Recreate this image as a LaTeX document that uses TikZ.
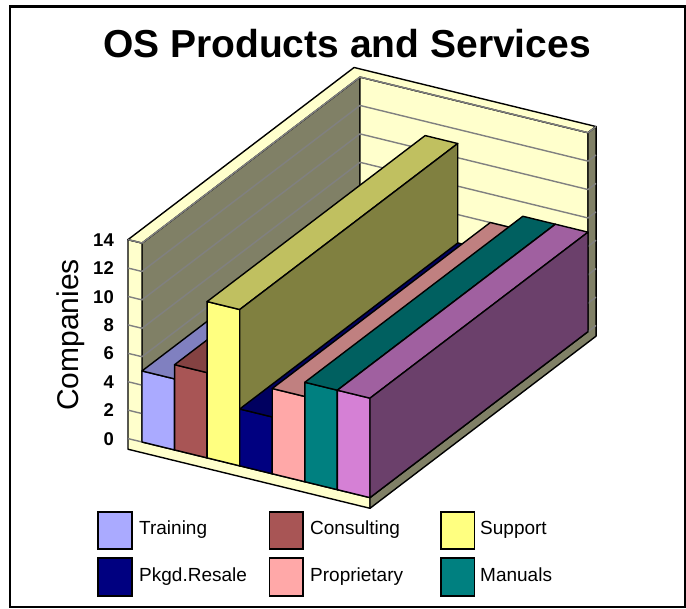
\documentclass[tikz,border=0pt]{standalone}
\usepackage{fontspec}
\setmainfont{Liberation Sans}
\definecolor{wallY}{HTML}{FFFFCC}
\definecolor{wallD}{HTML}{808066}
\definecolor{gridG}{HTML}{808080}
\definecolor{trF}{HTML}{AAAAFF}\definecolor{trT}{HTML}{8080C0}\definecolor{trS}{HTML}{555580}
\definecolor{coF}{HTML}{A85555}\definecolor{coT}{HTML}{844242}\definecolor{coS}{HTML}{542A2A}
\definecolor{suF}{HTML}{FFFF80}\definecolor{suT}{HTML}{C0C060}\definecolor{suS}{HTML}{808040}
\definecolor{pkF}{HTML}{000080}\definecolor{pkT}{HTML}{000060}\definecolor{pkS}{HTML}{000040}
\definecolor{prF}{HTML}{FFA8A8}\definecolor{prT}{HTML}{C08080}\definecolor{prS}{HTML}{805454}
\definecolor{maF}{HTML}{008080}\definecolor{maT}{HTML}{006060}\definecolor{maS}{HTML}{004040}
\definecolor{puF}{HTML}{D580D5}\definecolor{puT}{HTML}{A060A0}\definecolor{puS}{HTML}{6B406B}
\def\LWt{0.43}
\def\BWt{0.037}
\def\FLt{0.75}
\tikzset{
  edge/.style={draw=black, line width=1.4pt, line join=round},
  wallface/.style={edge, fill=wallY},
  darkface/.style={edge, fill=wallD},
  gridln/.style={draw=gridG, line width=1.4pt},
  legbox/.style={draw=black, line width=1.6pt, minimum width=33.5pt, minimum height=37.5pt, inner sep=0pt},
  legtxt/.style={font=\fontsize{19}{22}\selectfont, inner sep=0pt, anchor=base west},
  ticklbl/.style={font=\bfseries\fontsize{18.5}{21}\selectfont, inner sep=0pt, anchor=base east},
}
\begin{document}
\begin{tikzpicture}[x=1pt,y=1pt]
\useasboundingbox (0,0) rectangle (686,609);
\draw[line width=2.8pt] (10,2) rectangle (685.5,602.3);
% title and axis title
\node[font=\bfseries\fontsize{39}{44}\selectfont, anchor=base, inner sep=0pt] (title) at (347,551) {OS Products and Services};
\node[font=\fontsize{30}{34}\selectfont, anchor=base, rotate=90, inner sep=0pt] (ylabel) at (78,274) {Companies};
% tick labels
\foreach \v in {0,2,...,14}
  \node[ticklbl] (t\v) at (114,{163.8+14.21*\v}) {\v};
% 3D chart
\begin{scope}[shift={(142pt,167pt)}, x={(32.57pt,-7.95pt)}, y={(0pt,14.21pt)}, z={(218pt,166pt)}]
  % walls
  \filldraw[darkface] (0,0,0) -- (0,14,0) -- (0,14,1) -- (0,0,1) -- cycle;
  \filldraw[wallface] (0,0,1) -- (7,0,1) -- (7,14,1) -- (0,14,1) -- cycle;
  \filldraw[wallface] (-\LWt,-\FLt,0) -- (7,-\FLt,0) -- (7,0,0) -- (0,0,0) -- (0,14,0) -- (-\LWt,14,0) -- cycle;
  \filldraw[wallface] (-\LWt,14,0) -- (0,14,0) -- (0,14,1) -- (7,14,1) -- (7,14,1+\BWt) -- (-\LWt,14,1+\BWt) -- cycle;
  \filldraw[darkface] (7,-\FLt,0) -- (7,-\FLt,1+\BWt) -- (7,14,1+\BWt) -- (7,14,1) -- (7,0,1) -- (7,0,0) -- cycle;
  % gridlines
  \foreach \v in {0,2,...,14}
    \draw[gridln] (-\LWt,\v,0) -- (0,\v,0) -- (0,\v,1) -- (7,\v,1) -- (7,\v,1+\BWt);
  % bars
  \foreach \i/\h/\cf/\ct/\cs in {0/5/trF/trT/trS, 1/6/coF/coT/coS, 2/11/suF/suT/suS, 3/4/pkF/pkT/pkS, 4/6/prF/prT/prS, 5/7/maF/maT/maS, 6/7/puF/puT/puS}{
    \filldraw[edge, fill=\cf] (\i,0,0) -- (\i+1,0,0) -- (\i+1,\h,0) -- (\i,\h,0) -- cycle;
    \filldraw[edge, fill=\ct] (\i,\h,0) -- (\i+1,\h,0) -- (\i+1,\h,1) -- (\i,\h,1) -- cycle;
    \filldraw[edge, fill=\cs] (\i+1,0,0) -- (\i+1,0,1) -- (\i+1,\h,1) -- (\i+1,\h,0) -- cycle;
  }
\end{scope}
% legend
\node[legbox, fill=trF] (lb1) at (115,78.5) {};
\node[legtxt] (lt1) at (139,74) {Training};
\node[legbox, fill=coF] (lb2) at (286.3,78.5) {};
\node[legtxt] (lt2) at (310,74) {Consulting};
\node[legbox, fill=suF] (lb3) at (457.6,78.5) {};
\node[legtxt] (lt3) at (480,74) {Support};
\node[legbox, fill=pkF] (lb4) at (115,32) {};
\node[legtxt] (lt4) at (139,27.3) {Pkgd.Resale};
\node[legbox, fill=prF] (lb5) at (286.3,32) {};
\node[legtxt] (lt5) at (310,27.3) {Proprietary};
\node[legbox, fill=maF] (lb6) at (457.6,32) {};
\node[legtxt] (lt6) at (480,27.3) {Manuals};
\end{tikzpicture}
\end{document}
